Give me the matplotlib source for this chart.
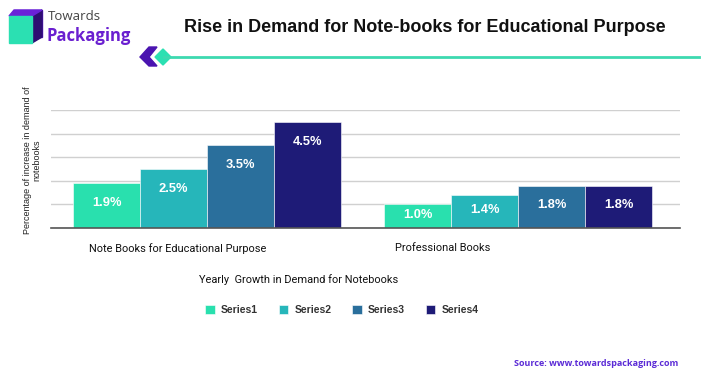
import matplotlib.pyplot as plt
from matplotlib.patches import Polygon, Rectangle
from matplotlib.lines import Line2D
import numpy as np

W, H = 701, 376

categories = ["Note Books for Educational Purpose", "Professional Books"]
series_names = ["Series1", "Series2", "Series3", "Series4"]
values = {
    "Series1": [1.9, 1.0],
    "Series2": [2.5, 1.4],
    "Series3": [3.5, 1.8],
    "Series4": [4.5, 1.8],
}
colors = ["#29E0AE", "#26B6BA", "#2A6F9C", "#1E1B77"]


def fx(x):
    return x / W


def fy(y):
    return 1 - y / H


fig = plt.figure(figsize=(W / 100, H / 100), dpi=100)
fig.patch.set_facecolor("white")

# logo
fig.add_artist(Polygon([(fx(14), fy(10)), (fx(42), fy(10)), (fx(42), fy(37)),
                        (fx(14), fy(37))], closed=True, color="#5A17C9"))
fig.add_artist(Polygon([(fx(32), fy(16)), (fx(42), fy(10)), (fx(42), fy(37)),
                        (fx(32), fy(43))], closed=True, color="#2E0E72"))
fig.add_artist(Polygon([(fx(9), fy(16)), (fx(14), fy(10)), (fx(42), fy(10)),
                        (fx(32), fy(16))], closed=True, color="#6A22D8"))
fig.add_artist(Rectangle((fx(9), fy(43)), fx(23), 27 / H, color="#2BE0B2"))
fig.text(fx(48), fy(17), "Towards", fontsize=9.5, color="#444444",
         family="Open Sans", va="center")
fig.text(fx(47), fy(36), "Packaging", fontsize=12, color="#6A1FD0",
         family="Open Sans", fontweight="bold", va="center")

# title decoration
fig.add_artist(Line2D([fx(164), fx(699)], [fy(57), fy(57)], color="#3DD9B0", lw=2))
fig.add_artist(Polygon([(fx(149), fy(47)), (fx(157), fy(47)), (fx(149), fy(57)),
                        (fx(157), fy(66)), (fx(149), fy(66)), (fx(140), fy(57))],
                       closed=True, color="#4A14B0"))
fig.add_artist(Polygon([(fx(163), fy(49)), (fx(171), fy(57)), (fx(163), fy(65)),
                        (fx(155), fy(57))], closed=True, color="#2BE0B2"))

fig.text(fx(425), fy(28), "Rise in Demand for Note-books for Educational Purpose",
         fontsize=13, fontweight="bold", family="Liberation Sans",
         ha="center", va="center", color="#111111")

ax = fig.add_axes([fx(51), fy(228), fx(680) - fx(51), fy(110) - fy(228)])
x = np.arange(len(categories))
bw = 0.2155
for i, name in enumerate(series_names):
    pos = x + (i - 1.5) * bw
    ax.bar(pos, values[name], bw, color=colors[i], label=name, zorder=3,
           edgecolor="white", linewidth=0.4)
    for xp, v in zip(pos, values[name]):
        off = min(0.85, v * 0.45)
        ax.text(xp, v - off, f"{v:.1f}%", ha="center", va="center",
                color="white", fontsize=9.3, fontweight="bold",
                family="Liberation Sans", zorder=4)

ax.set_xlim(-0.502, 1.52)
ax.set_ylim(0, 5)
ax.set_yticks(range(0, 6))
ax.yaxis.grid(True, color="#d0d0d0", lw=1, zorder=0)
ax.set_yticklabels([])
ax.set_xticks([])
ax.tick_params(left=False, bottom=False)
for s in ["top", "right", "left"]:
    ax.spines[s].set_visible(False)
ax.spines["bottom"].set_color("#555555")
ax.spines["bottom"].set_linewidth(1.2)
ax.spines["bottom"].set_zorder(5)

for cx, cat in zip([0.202, 0.623], categories):
    ax.text(cx, -0.17, cat, transform=ax.transAxes, ha="center", va="center",
            fontsize=7.9, family="Roboto", color="#111111")
ax.text(0.393, -0.44, "Yearly  Growth in Demand for Notebooks", transform=ax.transAxes,
        ha="center", va="center", fontsize=7.9, family="Roboto", color="#111111")

fig.text(fx(32), fy(160), "Percentage of increase in demand of\nnotebooks",
         rotation=90, ha="center", va="center", fontsize=6.5,
         family="Liberation Sans", color="#222222", linespacing=1.0)

fig.legend(loc="center", bbox_to_anchor=(fx(342), fy(310)), ncol=4, frameon=False,
           prop={"family": "Liberation Sans", "weight": "bold", "size": 7.5},
           handlelength=0.9, handleheight=0.9, columnspacing=2.0, handletextpad=0.6,
           labelcolor="#333333")

fig.text(fx(678), fy(363), "Source: www.towardspackaging.com", ha="right", va="center",
         fontsize=6.5, fontweight="bold", family="Open Sans", color="#5B2BD6")

fig.savefig("out.png", dpi=100)
